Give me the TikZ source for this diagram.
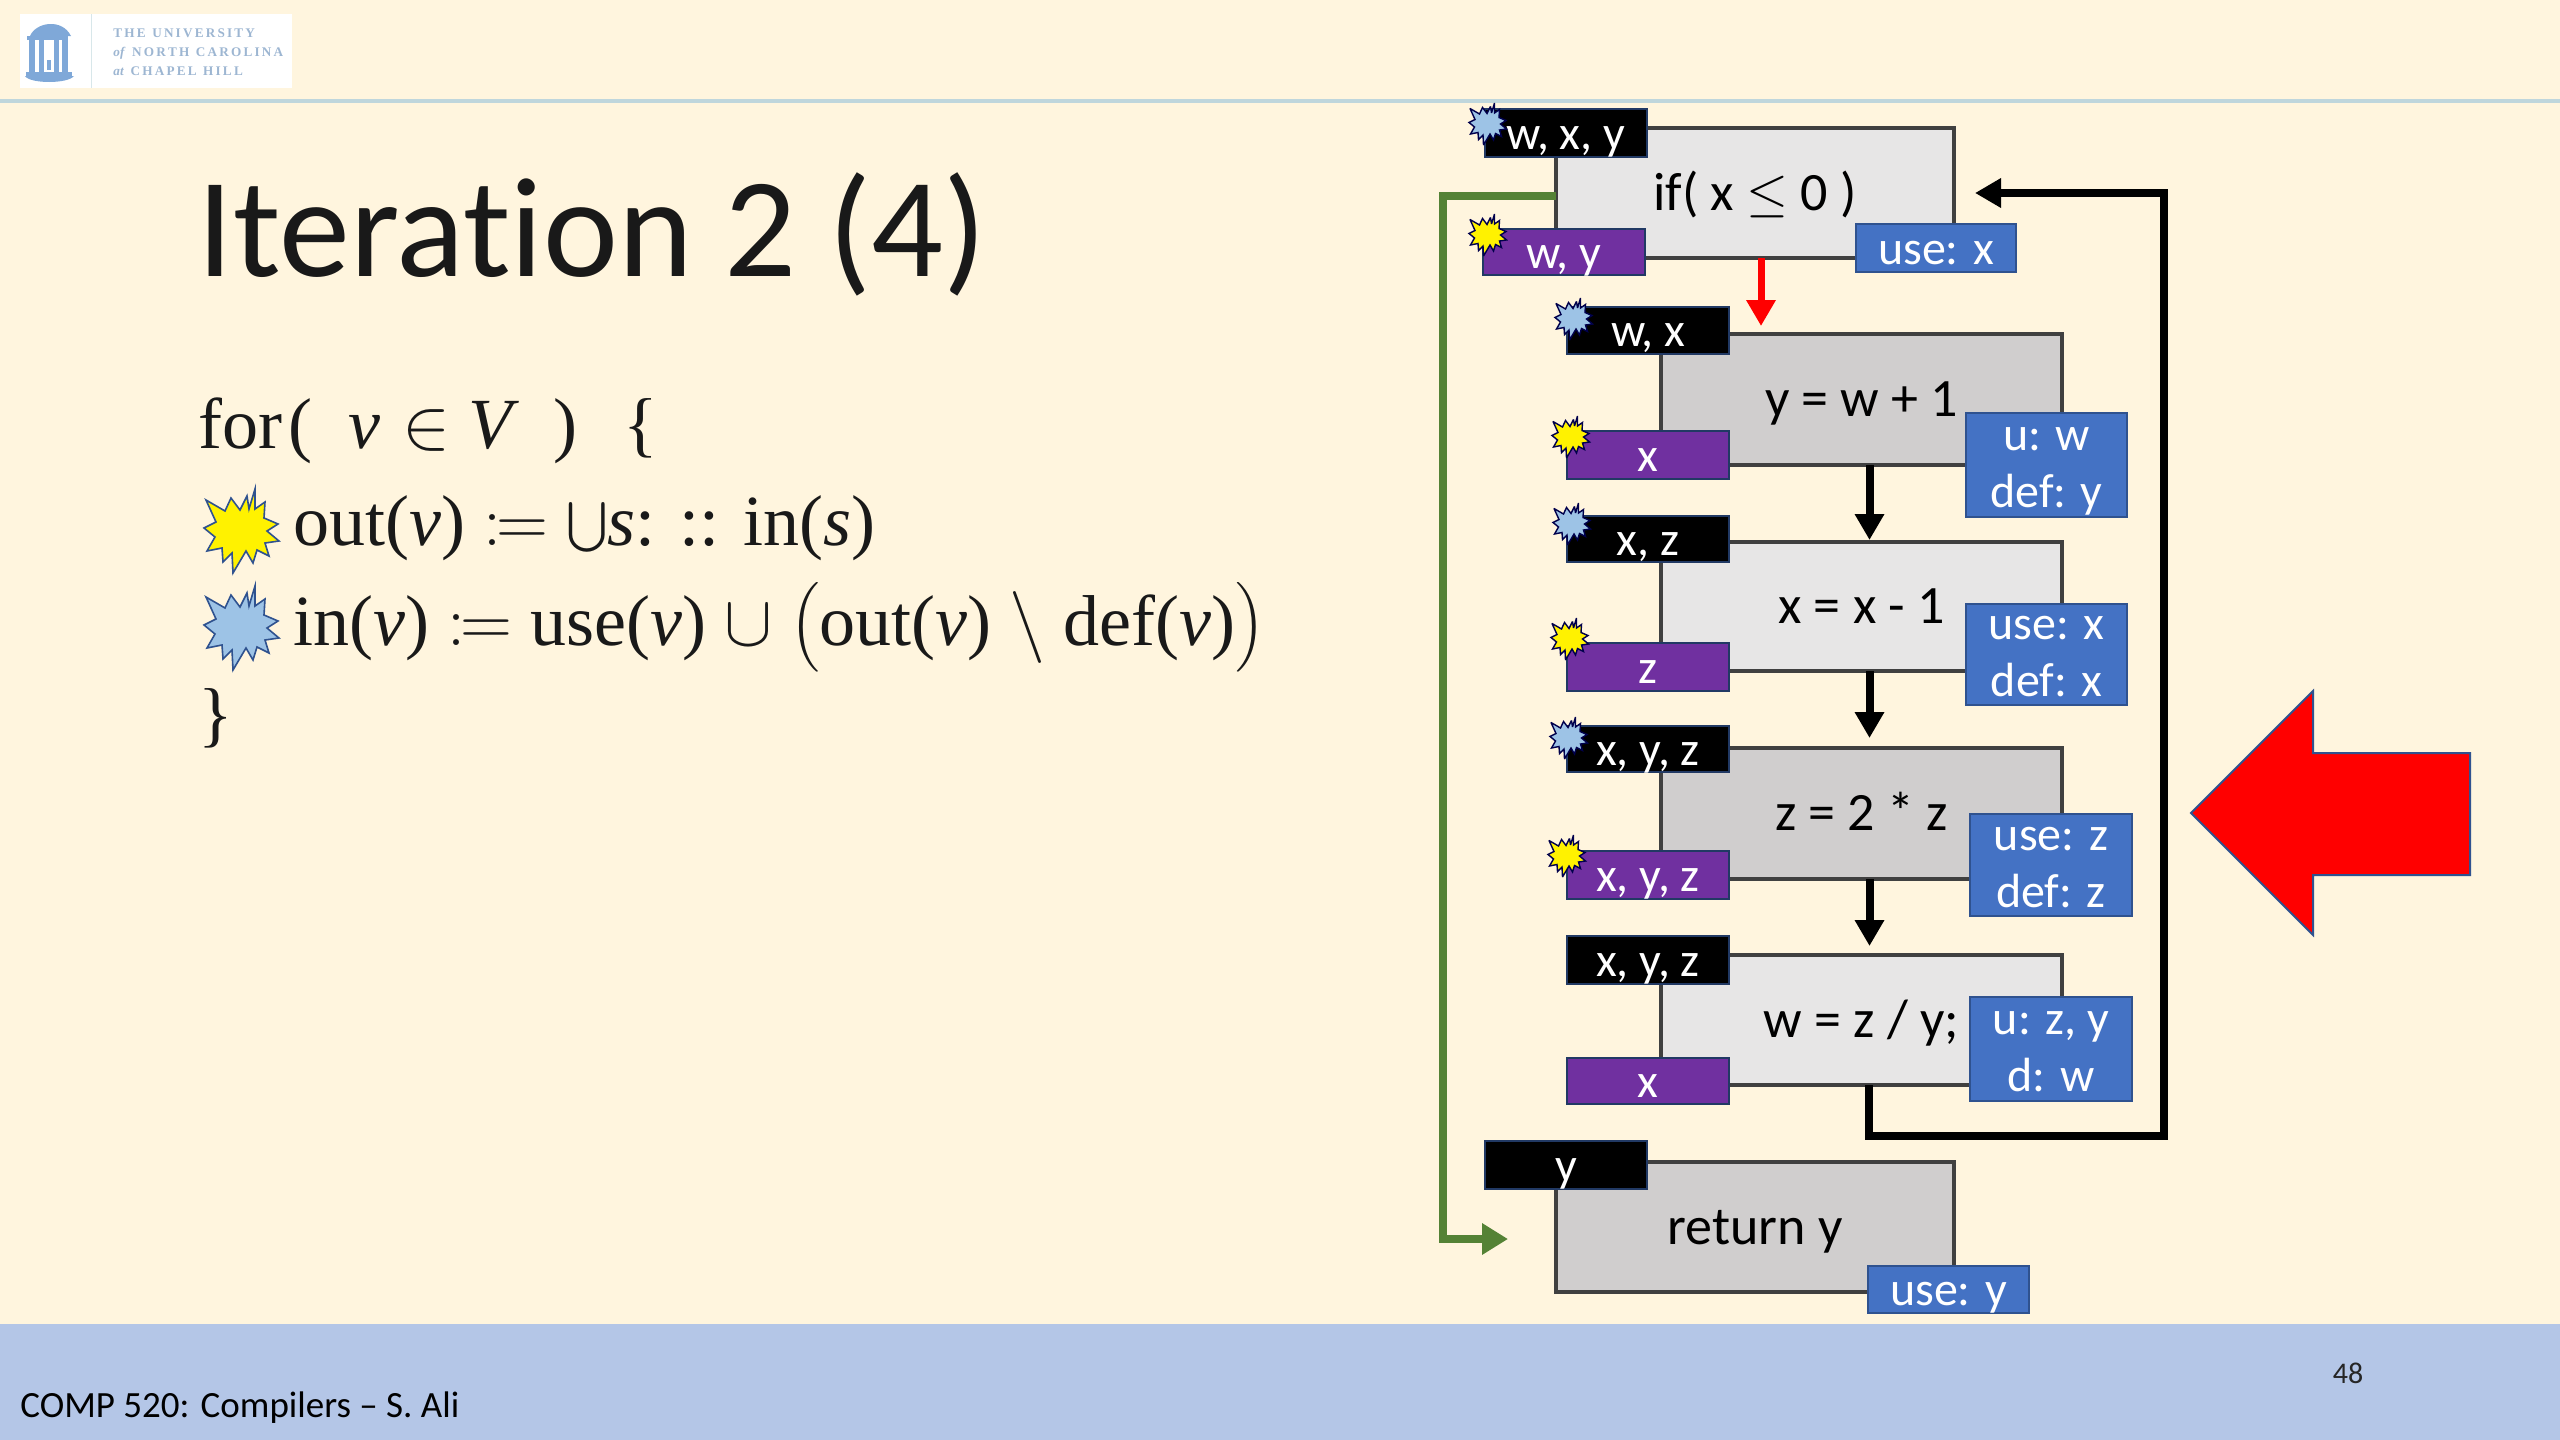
\RequirePackage{fix-cm}
\documentclass[tikz,border=0pt]{standalone}
\usepackage{amsmath}
\usepackage{fontspec}
\setmainfont{Carlito}
\newfontfamily\mfont{Liberation Serif}
\usetikzlibrary{arrows.meta}
\definecolor{bgc}{HTML}{FFF5DE}
\definecolor{footc}{HTML}{B4C6E7}
\definecolor{linec}{HTML}{BFD6DC}
\definecolor{lgray}{HTML}{E7E6E6}
\definecolor{dgray}{HTML}{D0CECE}
\definecolor{edgec}{HTML}{404040}
\definecolor{bluec}{HTML}{4472C4}
\definecolor{blueb}{HTML}{2F528F}
\definecolor{purpc}{HTML}{7030A0}
\definecolor{greenc}{HTML}{548235}
\definecolor{sky}{HTML}{9DC3E6}
\definecolor{logoc}{HTML}{7FA8D8}
\definecolor{logot}{HTML}{9DB6D2}
\newcommand\rbox[7]{%
  \pgfmathsetmacro\rw{(#5-#3)*0.5}\pgfmathsetmacro\rh{(#6-#4)*0.5}%
  \node[#2,minimum width=\rw pt,minimum height=\rh pt,inner sep=0pt,outer sep=0pt] (#1) at ({(#3+#5)/2},{(#4+#6)/2}) {#7};}
\newcommand\burst[4]{%
  \draw[#1,shift={(#2,#3)},scale=#4] (15,-42)--(15,-22)--(25,-29)--(24,-13)--(38,-7)--(27,0)--(39,10)--(25,12)--(29,25)--(17,19)--(13,32)--(6,20)--(-7,42)--(-8,22)--(-17,31)--(-18,17)--(-33,20)--(-25,6)--(-36,-3)--(-24,-9)--(-34,-31)--(-15,-20)--(-9,-33)--(0,-21)--(7,-35)--(9,-22)--cycle;}
\newcommand\vvar{\textit{v}}
\newcommand\svar{\textit{s}}
\newcommand\twolines[2]{\raisebox{-6.75pt}[0pt][0pt]{#1}\\\raisebox{-6.75pt}[0pt][0pt]{#2}}
\tikzset{
  plain/.style={draw=edgec,line width=1.6pt,font=\fontsize{27}{33}\selectfont,text=black,text height=17pt,text depth=0pt},
  lightbox/.style={plain,fill=lgray},
  darkbox/.style={plain,fill=dgray},
  tagbase/.style={draw=blueb!70!black,line width=.8pt,text=white,font=\fontsize{24}{28.5}\selectfont,align=center},
  onel/.style={text height=16pt,text depth=0pt},
  intag/.style={tagbase,onel,fill=black},
  outtag/.style={tagbase,onel,fill=purpc},
  usetag/.style={tagbase,onel,fill=bluec,draw=blueb},
  usetwo/.style={tagbase,fill=bluec,draw=blueb},
  bigb/.style={draw=blueb,line width=.8pt,line join=miter,fill=#1},
  smallb/.style={draw=blue!30!black,line width=.7pt,line join=miter,miter limit=3,fill=#1},
  flow/.style={line width=4pt,-{Triangle[length=13pt,width=14pt]},draw=black},
  mathline/.style={anchor=base west,inner sep=0pt,font=\mfont\fontsize{36}{40}\selectfont,text=black!90},
}
\begin{document}
\begin{tikzpicture}[x=.5pt,y=-.5pt]
\useasboundingbox (0,0) rectangle (2560,1440);
\fill[bgc] (0,0) rectangle (2560,1440);
\fill[footc] (0,1324) rectangle (2560,1440);
\fill[linec] (0,99) rectangle (2560,103);
% logo
\fill[white] (20,14) rectangle (292,88);
\draw[linec!60,line width=.5pt] (91,14) -- (91,88);
\begin{scope}[logoc]
\fill (30,36) .. controls (36,22) and (62,18) .. (71,36) -- cycle;
\fill (27,36) rectangle (68,40);
\fill (29,40) rectangle (35,72);
\fill (39,40) rectangle (44,72);
\fill (54,40) rectangle (59,72);
\fill (62,40) rectangle (68,72);
\fill (47,60) rectangle (51,70);
\fill (26,72) rectangle (72,76);
\fill (25,76) .. controls (30,84) and (68,84) .. (74,76) -- cycle;
\end{scope}
\node[anchor=base west,inner sep=0pt,text=logot,font=\mfont\bfseries\fontsize{6.6}{8}\selectfont] (logoa) at (113,37) {T\,H\,E\ \ U\,N\,I\,V\,E\,R\,S\,I\,T\,Y};
\node[anchor=base west,inner sep=0pt,text=logot,font=\mfont\bfseries\fontsize{6.6}{8}\selectfont] (logob) at (113,56) {\textit{of}\ \ N\,O\,R\,T\,H\ \ C\,A\,R\,O\,L\,I\,N\,A};
\node[anchor=base west,inner sep=0pt,text=logot,font=\mfont\bfseries\fontsize{6.6}{8}\selectfont] (logoc) at (113,75) {\textit{at}\ \ C\,H\,A\,P\,E\,L\ \ H\,I\,L\,L};
% title and text
\node[anchor=base west,inner sep=0pt,font=\fontsize{71}{80}\selectfont,text=black!90] (title) at (197,276) {Iterat\kern0pt ion 2 (4)};
\node[mathline] (l0) at (198,448) {for\hspace{3pt}(\hspace{18pt}\vvar\hspace{11pt}$\in$\hspace{9pt}\textit{V}\hspace{17pt})\hspace{23pt}\{};
\node[mathline] (l1) at (293,545) {out(\vvar) $\mathrel{:}\mkern-1.2mu=$ $\bigcup$\svar: :: in(\svar)};
\node[mathline] (l2) at (293,645) {in(\vvar) $\mathrel{:}\mkern-1.2mu=$ use(\vvar) $\cup$ $\big($out(\vvar) $\setminus$ def(\vvar)$\big)$};
\node[mathline] (l3) at (198,738) {\}};
\burst{bigb=yellow}{240}{531}{1}
\burst{bigb=sky}{240}{628}{1}
% footer
\node[anchor=base west,inner sep=0pt,font=\fontsize{18.5}{22}\selectfont,text=black] (foot) at (20,1417) {COMP 520: Compilers – S. Ali};
\node[inner sep=0pt,font=\fontsize{15}{18}\selectfont,text=black!85] (pnum) at (2348,1373) {48};
% big red arrow
\draw[draw=blueb,line width=1pt,fill=red,line join=miter] (2191,813) -- (2313,691) -- (2313,753) -- (2470,753) -- (2470,875) -- (2313,875) -- (2313,935) -- cycle;
% statement boxes
\rbox{b1}{lightbox}{1556}{128}{1954}{258}{if( x $\leq$ 0 )}
\rbox{b2}{darkbox}{1661}{334}{2062}{465}{y = w + 1}
\rbox{b3}{lightbox}{1661}{542}{2062}{671}{x = x - 1}
\rbox{b4}{darkbox}{1661}{748}{2062}{879}{z = 2 * z}
\rbox{b5}{lightbox}{1661}{955}{2062}{1085}{w = z / y;}
\rbox{b6}{darkbox}{1556}{1162}{1954}{1292}{return y}
% connectors
\coordinate (gs) at (1443,196);
\coordinate (gb) at (1443,1239);
\coordinate (gt) at (1508,1239);
\coordinate (ls) at (1869,1085);
\coordinate (lb) at (1869,1136);
\coordinate (lc) at (2164,1136);
\coordinate (lt) at (1975,193);
\draw[flow,draw=greenc,-{Triangle[length=13pt,width=15pt,fill=greenc]},line join=miter] ([yshift=-1.5pt]b1.west) -- (gs) -- (gb) -- (gt);
\draw[flow,draw=red,line width=3.5pt] ([xshift=3pt]b1.south) -- ([xshift=3pt,yshift=4pt]b1.south |- b2.north);
\draw[flow] ([xshift=4pt]b2.south) -- ([xshift=4pt,yshift=1pt]b2.south |- b3.north);
\draw[flow] ([xshift=4pt]b3.south) -- ([xshift=4pt,yshift=5pt]b3.south |- b4.north);
\draw[flow] ([xshift=4pt]b4.south) -- ([xshift=4pt,yshift=4.5pt]b4.south |- b5.north);
\draw[flow,line join=miter] (ls) -- (lb) -- (lc) -- (lc |- lt) -- (lt);
% tags
\rbox{i1}{intag}{1485}{109}{1647}{157}{w, x, y}
\rbox{o1}{outtag}{1483}{229}{1645}{275}{w, y}
\rbox{u1}{usetag}{1856}{224}{2016}{272}{use: x}
\rbox{i2}{intag}{1567}{307}{1729}{354}{w, x}
\rbox{o2}{outtag}{1567}{431}{1729}{479}{x}
\rbox{u2}{usetwo}{1966}{413}{2127}{517}{\twolines{u: w}{def: y}}
\rbox{i3}{intag}{1567}{516}{1729}{562}{x, z}
\rbox{o3}{outtag}{1567}{643}{1729}{691}{z}
\rbox{u3}{usetwo}{1966}{604}{2127}{705}{\twolines{use: x}{def: x}}
\rbox{i4}{intag}{1567}{726}{1729}{772}{x, y, z}
\rbox{o4}{outtag}{1567}{851}{1729}{899}{x, y, z}
\rbox{u4}{usetwo}{1970}{814}{2132}{916}{\twolines{use: z}{def: z}}
\rbox{i5}{intag}{1567}{936}{1729}{984}{x, y, z}
\rbox{o5}{outtag}{1567}{1058}{1729}{1104}{x}
\rbox{u5}{usetwo}{1970}{997}{2132}{1101}{\twolines{u: z, y}{d: w}}
\rbox{i6}{intag}{1485}{1141}{1647}{1189}{y}
\rbox{u6}{usetag}{1868}{1266}{2029}{1313}{use: y}
% small bursts
\burst{smallb=sky}{1487}{124}{.5}
\burst{smallb=yellow}{1487}{235}{.5}
\burst{smallb=sky}{1573}{319}{.5}
\burst{smallb=yellow}{1570}{437}{.5}
\burst{smallb=sky}{1571}{524}{.5}
\burst{smallb=yellow}{1569}{639}{.5}
\burst{smallb=sky}{1568}{738}{.5}
\burst{smallb=yellow}{1566}{856}{.5}
\end{tikzpicture}
\end{document}
